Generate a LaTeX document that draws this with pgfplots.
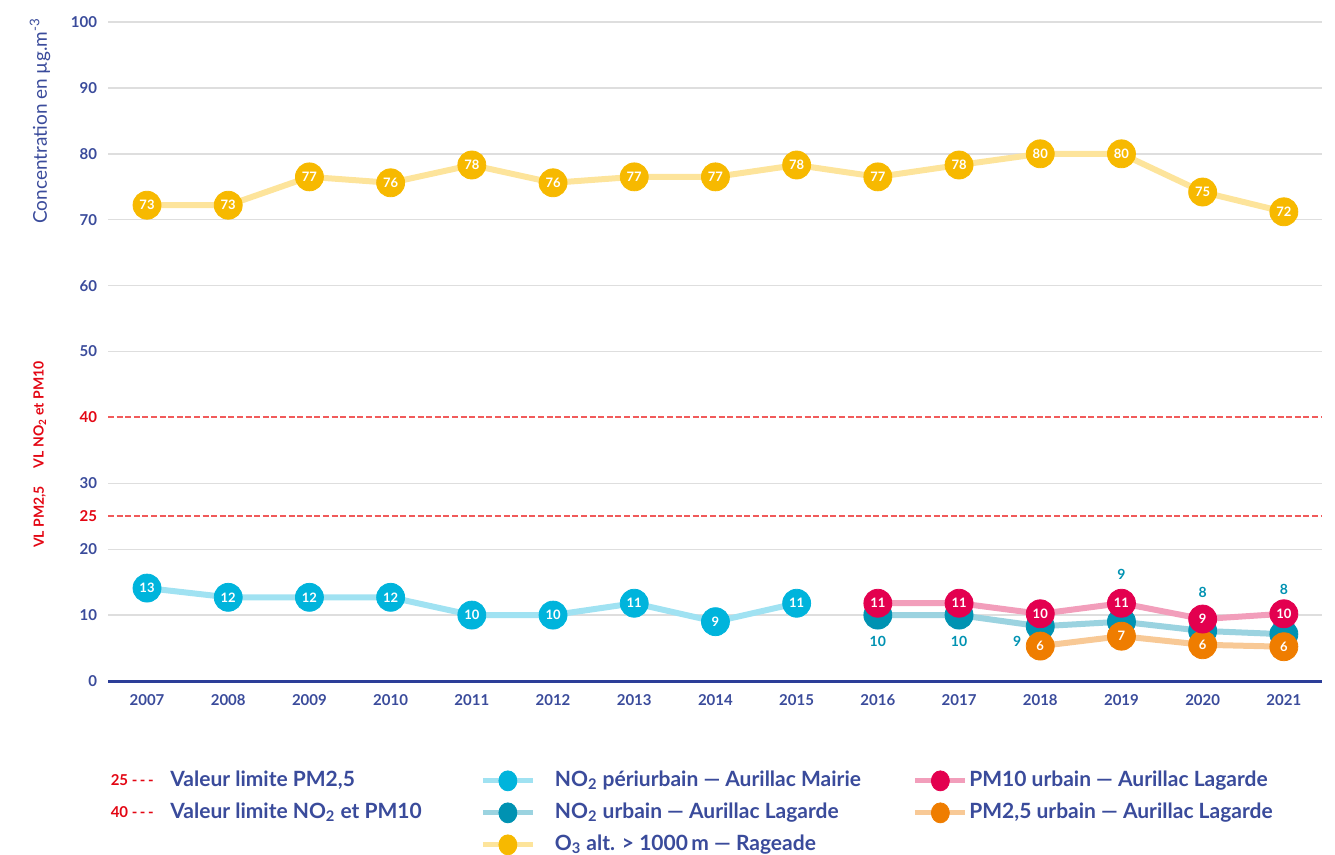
\documentclass[border=0pt]{standalone}
\usepackage{fontspec}
\setmainfont{Lato}
\usepackage{pgfplots}
\pgfplotsset{compat=1.18}
\usepackage{pgfplotstable}

\definecolor{navy}{RGB}{58,75,155}
\definecolor{axisnavy}{RGB}{44,62,152}
\definecolor{vred}{RGB}{227,6,19}
\definecolor{dashred}{RGB}{240,90,90}
\definecolor{dashredb}{RGB}{241,91,91}
\definecolor{gridgray}{RGB}{222,222,222}
\definecolor{o3c}{RGB}{247,185,0}
\definecolor{o3l}{RGB}{253,228,155}
\definecolor{peric}{RGB}{0,180,220}
\definecolor{peril}{RGB}{160,226,242}
\definecolor{urbc}{RGB}{0,146,178}
\definecolor{urbl}{RGB}{155,211,224}
\definecolor{pmtc}{RGB}{227,0,79}
\definecolor{pmtl}{RGB}{242,158,187}
\definecolor{pmfc}{RGB}{239,125,0}
\definecolor{pmfl}{RGB}{248,201,150}

\pgfplotstableread{
year y lab
2007 72.2 73
2008 72.2 73
2009 76.5 77
2010 75.6 76
2011 78.3 78
2012 75.6 76
2013 76.5 77
2014 76.5 77
2015 78.3 78
2016 76.5 77
2017 78.3 78
2018 80.0 80
2019 80.0 80
2020 74.2 75
2021 71.2 72
}\othree

\pgfplotstableread{
year y lab
2007 14.1 13
2008 12.7 12
2009 12.7 12
2010 12.7 12
2011 10.0 10
2012 10.0 10
2013 11.8 11
2014 9.0 9
2015 11.8 11
}\peri

\pgfplotstableread{
year y lab dx dy
2016 10.0 10 0 -13
2017 10.0 10 0 -13
2018 8.3 9 -11.5 -7.5
2019 9.0 9 0 23.5
2020 7.6 8 0 19
2021 7.1 8 0 22.5
}\urb

\pgfplotstableread{
year y lab
2016 11.8 11
2017 11.8 11
2018 10.2 10
2019 11.8 11
2020 9.4 9
2021 10.2 10
}\pmten

\pgfplotstableread{
year y lab
2018 5.3 6
2019 6.8 7
2020 5.5 6
2021 5.2 6
}\pmtwo

\pgfplotstableread{
x y
2006.52 25
2021.47 25
}\limA

\pgfplotstableread{
x y
2006.52 40
2021.47 40
}\limB

\newcommand{\lfont}{\bfseries\fontsize{10.5}{12}\selectfont}

\begin{document}
\begin{tikzpicture}
\begin{axis}[
  width=607pt, height=329.5pt, scale only axis,
  xmin=2006.52, xmax=2021.47, ymin=0, ymax=100,
  xtick={2007,2008,...,2021},
  ytick={0,10,20,25,30,40,50,60,70,80,90,100},
  yticklabel={\ifdim\tick pt=25pt\color{vred}\else\ifdim\tick pt=40pt\color{vred}\fi\fi\pgfmathprintnumber{\tick}},
  axis line style={draw=none},
  major tick length=0pt,
  tick style={draw=none},
  xticklabel style={font=\bfseries\fontsize{7.5}{9}\selectfont, text=navy, yshift=-3pt},
  yticklabel style={font=\bfseries\fontsize{7.5}{9}\selectfont, text=navy, xshift=-2pt},
  /pgf/number format/1000 sep={},
  /pgf/number format/assume math mode=true,
  clip=false,
  legend columns=3,
  legend style={at={(axis description cs:0.0016,-0.135)}, anchor=north west,
    draw=none, fill=none, inner sep=0pt, column sep=0pt, row sep=5.5pt,
    cells={anchor=west},
    nodes={inner sep=0pt, text height=8pt, text depth=2.5pt, text=navy, font=\lfont}},
]
% grid lines
\pgfplotsinvokeforeach{10,20,30,50,60,70,80,90,100}{
  \draw[gridgray, line width=0.7pt] (axis cs:2006.52,#1) -- (axis cs:2021.47,#1);
}
\draw[axisnavy, line width=1.5pt] (rel axis cs:0,0) -- (rel axis cs:1,0);

% lines
\addplot[no markers, line width=3pt, o3l, forget plot] table[x=year,y=y]{\othree};
\addplot[no markers, line width=3pt, peril, forget plot] table[x=year,y=y]{\peri};
\addplot[no markers, line width=3pt, urbl, forget plot] table[x=year,y=y]{\urb};
\addplot[no markers, line width=3pt, pmfl, forget plot] table[x=year,y=y]{\pmtwo};
\addplot[no markers, line width=3pt, pmtl, forget plot] table[x=year,y=y]{\pmten};

% markers
\pgfplotsset{mk/.style={only marks, mark=*, mark size=7pt, forget plot,
   nodes near coords, point meta=explicit symbolic,
   every node near coord/.append style={anchor=center, text=white, inner sep=0pt,
     font=\bfseries\fontsize{6.5}{7}\selectfont}}}
\addplot[mk, o3c] table[x=year,y=y,meta=lab]{\othree};
\addplot[mk, peric] table[x=year,y=y,meta=lab]{\peri};
\addplot[only marks, mark=*, mark size=7pt, forget plot, urbc,
   nodes near coords, point meta=explicit symbolic,
   visualization depends on={\thisrow{dx} \as \dx},
   visualization depends on={\thisrow{dy} \as \dy},
   every node near coord/.append style={anchor=center, text=urbc, inner sep=0pt,
     xshift=\dx pt, yshift=\dy pt, font=\bfseries\fontsize{7}{8}\selectfont}]
   table[x=year,y=y,meta=lab]{\urb};
\addplot[mk, pmfc] table[x=year,y=y,meta=lab]{\pmtwo};
\addplot[mk, pmtc] table[x=year,y=y,meta=lab]{\pmten};

% limit lines (drawn after the series)
\addplot[color=dashred, draw=dashred, line width=1pt, dash pattern=on 3pt off 1.3pt, forget plot] table[x=x,y=y]{\limA};
\addplot[color=dashredb, draw=dashredb, line width=1pt, dash pattern=on 3pt off 1.3pt, forget plot] table[x=x,y=y]{\limB};

% side labels
\node[rotate=90, text=navy, font=\fontsize{9.5}{11}\selectfont] at (rel axis cs:-0.056,0.85) {Concentration en µg.m\textsuperscript{-3}};
\node[rotate=90, text=vred, font=\bfseries\fontsize{7}{8}\selectfont] at (axis cs:2005.68,24.9) {VL PM2,5};
\node[rotate=90, text=vred, font=\bfseries\fontsize{7}{8}\selectfont] at (axis cs:2005.68,40.4) {VL NO\textsubscript{2} et PM10};

\coordinate (BL) at (rel axis cs:-0.0890,-0.2640);
\coordinate (TR) at (rel axis cs:1.0107,1.0334);

% legend
\addlegendimage{legend image code/.code={\path[draw=none,fill=none] (0pt,0pt) rectangle (30pt,0pt); \node[anchor=west,inner sep=0pt,text height=5pt,text depth=0pt,text=vred,font=\bfseries\fontsize{7.5}{8}\selectfont] at (0pt,0pt) {25 -\,-\,-};}}
\addlegendentry{\makebox[155pt][l]{Valeur limite PM2,5}}
\addlegendimage{legend image code/.code={\path[draw=none,fill=none] (0pt,0pt) rectangle (36pt,0pt); \draw[line width=2.5pt, peril] (0pt,0pt) -- (25pt,0pt); \fill[peric] (12.5pt,0pt) ellipse (4.5pt and 5pt);}}
\addlegendentry{\makebox[179pt][l]{NO\textsubscript{2} périurbain — Aurillac Mairie}}
\addlegendimage{legend image code/.code={\path[draw=none,fill=none] (0pt,0pt) rectangle (27pt,0pt); \draw[line width=2.5pt, pmtl] (0pt,0pt) -- (25pt,0pt); \fill[pmtc] (12.5pt,0pt) ellipse (4.5pt and 5pt);}}
\addlegendentry{PM10 urbain — Aurillac Lagarde}

\addlegendimage{legend image code/.code={\path[draw=none,fill=none] (0pt,0pt) rectangle (30pt,0pt); \node[anchor=west,inner sep=0pt,text height=5pt,text depth=0pt,text=vred,font=\bfseries\fontsize{7.5}{8}\selectfont] at (0pt,0pt) {40 -\,-\,-};}}
\addlegendentry{\makebox[155pt][l]{Valeur limite NO\textsubscript{2} et PM10}}
\addlegendimage{legend image code/.code={\path[draw=none,fill=none] (0pt,0pt) rectangle (36pt,0pt); \draw[line width=2.5pt, urbl] (0pt,0pt) -- (25pt,0pt); \fill[urbc] (12.5pt,0pt) ellipse (4.5pt and 5pt);}}
\addlegendentry{\makebox[179pt][l]{NO\textsubscript{2} urbain — Aurillac Lagarde}}
\addlegendimage{legend image code/.code={\path[draw=none,fill=none] (0pt,0pt) rectangle (27pt,0pt); \draw[line width=2.5pt, pmfl] (0pt,0pt) -- (25pt,0pt); \fill[pmfc] (12.5pt,0pt) ellipse (4.5pt and 5pt);}}
\addlegendentry{PM2,5 urbain — Aurillac Lagarde}

\addlegendimage{empty legend}
\addlegendentry{}
\addlegendimage{legend image code/.code={\path[draw=none,fill=none] (0pt,0pt) rectangle (36pt,0pt); \draw[line width=2.5pt, o3l] (0pt,0pt) -- (25pt,0pt); \fill[o3c] (12.5pt,0pt) ellipse (4.5pt and 5pt);}}
\addlegendentry{O\textsubscript{3} alt. > 1000\,m — Rageade}
\end{axis}
\pgfresetboundingbox
\path (BL) rectangle (TR);
\end{tikzpicture}
\end{document}
